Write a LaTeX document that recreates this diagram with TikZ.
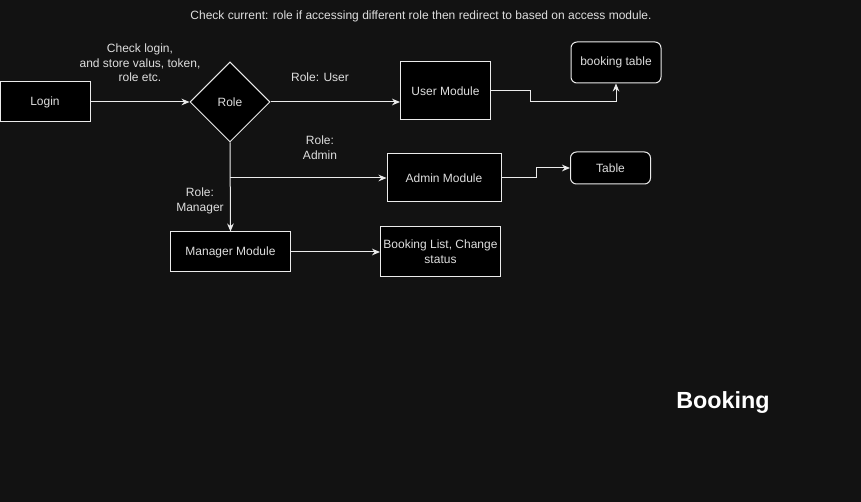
\documentclass[tikz,border=0pt]{standalone}
\usepackage{fontspec}
\setmainfont{Liberation Sans}
\usetikzlibrary{
  arrows.meta,
  positioning,
  shapes.geometric
}
\definecolor{canvas}{RGB}{18,18,18}
\definecolor{ink}{RGB}{222,222,222}
\definecolor{wire}{RGB}{235,235,235}

\begin{document}
\begin{tikzpicture}[
  x=0.75pt, y=-0.75pt,
  every node/.style={font=\fontsize{9}{11}\selectfont, text=ink},
  modbox/.style={draw=wire, fill=black, line width=0.75pt, align=center, inner sep=1pt},
  roundbox/.style={modbox, rounded corners=4.5pt},
  note/.style={align=center},
  flow/.style={->, draw=wire, line width=0.75pt},
  >={Stealth[length=6pt, width=5pt]}
]

\fill[canvas] (0,0) rectangle (861,502);
\useasboundingbox (0,0) rectangle (861,502);

\node[note] (hint) at (421,16)
  {Check current: role if accessing different role then redirect to based on access module.};

% Login and role check
\node[modbox, minimum width=67.5pt, minimum height=30pt] (login) at (45,102) {Login};
\node[modbox, diamond, aspect=1, inner sep=0pt, minimum size=60pt] (role) at (230,102) {Role};
\node[note] (checknote) at (140,63) {Check login,\\and store valus, token,\\role etc.};

% User branch
\node[modbox, minimum width=67.5pt, minimum height=43.5pt] (user) at (445.5,91) {User Module};
\node[roundbox, minimum width=67.5pt, minimum height=30.75pt] (btable) at (616,62.5) {booking table};
\node[note] (userlbl) at (320,77) {Role: User};

% Admin branch
\node[modbox, minimum width=85.5pt, minimum height=36pt] (admin) at (444,178) {Admin Module};
\node[roundbox, minimum width=60pt, minimum height=24pt] (table) at (610.5,168) {Table};
\node[note] (adminlbl) at (320,148) {Role:\\Admin};

% Manager branch
\node[modbox, minimum width=90pt, minimum height=30pt] (manager) at (230.5,252) {Manager Module};
\node[modbox, minimum width=90pt, minimum height=37.5pt] (blist) at (440.5,252) {Booking List, Change\\status};
\node[note] (managerlbl) at (200,201) {Role:\\Manager};

\node[font=\fontsize{17.5}{20}\selectfont\bfseries, text=white] (title) at (723,403) {Booking};

% Connectors
\draw[flow] (login.east) -- (role.west);
\draw[flow] (role.east) -- (role.east -| user.west);
\draw[flow] (user.east) -- ++(39,0) -- ++(0,11) -| (btable.south);
\draw[flow] (role.south) -- (manager.north);
\draw[flow] (role.south |- admin.west) -- (admin.west);
\draw[flow] (admin.east) -- ++(35,0) |- (table.west);
\draw[flow] (manager.east) -- (blist.west);

\end{tikzpicture}
\end{document}
